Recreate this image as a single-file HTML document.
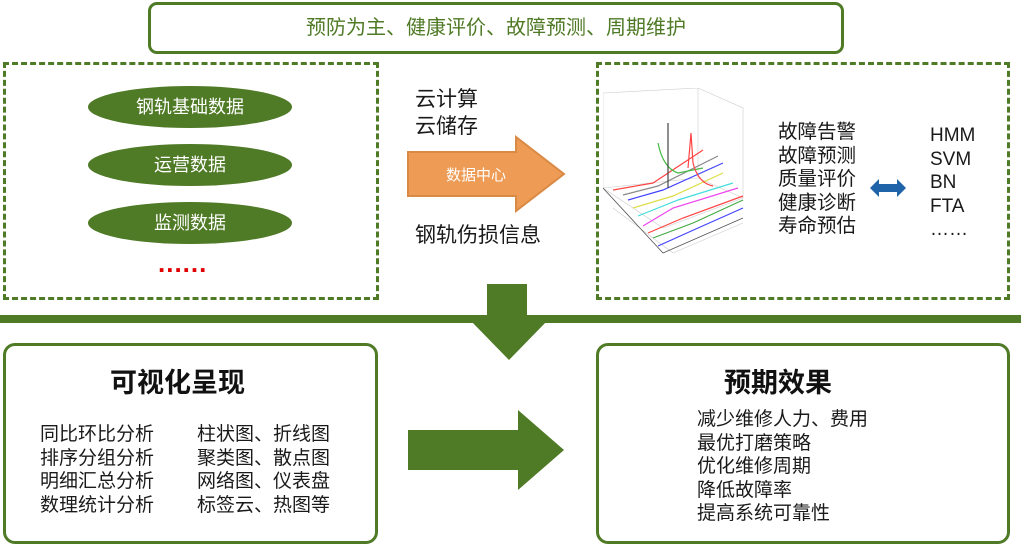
<!DOCTYPE html>
<html><head><meta charset="utf-8"><style>
body{margin:0;width:1024px;height:545px;background:#fff;position:relative;overflow:hidden;font-family:"Liberation Sans","Noto Sans CJK SC",sans-serif;color:#1a1a1a}
.a{position:absolute}
.t{position:absolute;white-space:nowrap;font-size:19px;line-height:23.5px}
.ell{position:absolute;left:88px;width:204px;height:42px;border-radius:50%;background:#4f7a26;color:#fff;font-size:18px;line-height:42px;text-align:center}
</style></head><body>
<div class="a" style="left:148px;top:2px;width:690px;height:46px;border:3px solid #4f7a26;border-radius:9px;color:#4f7a26;font-size:20px;line-height:46px;text-align:center">预防为主、健康评价、故障预测、周期维护</div>
<div class="a" style="left:3px;top:62px;width:370px;height:232px;border:3px dashed #4f7a26"></div>
<div class="a" style="left:596px;top:62px;width:408px;height:232px;border:3px dashed #4f7a26"></div>
<div class="ell" style="top:86px">钢轨基础数据</div>
<div class="ell" style="top:144px">运营数据</div>
<div class="ell" style="top:202px">监测数据</div>
<div class="t" style="left:158px;top:252px;color:#e00000;font-size:26px;font-weight:bold;letter-spacing:1px">......</div>
<div class="t" style="left:415px;top:86px;font-size:21px;line-height:27px">云计算<br>云储存</div>
<svg class="a" style="left:406px;top:135px" width="162" height="78"><polygon points="2,17 110,17 110,2 158,39 110,76 110,61 2,61" fill="#ee9b55" stroke="#d98a44" stroke-width="2"/><text x="70" y="45" font-size="15" fill="#fff" text-anchor="middle" font-family="Liberation Sans,Noto Sans CJK SC,sans-serif">数据中心</text></svg>
<div class="t" style="left:415px;top:224px;font-size:21px">钢轨伤损信息</div>
<svg class="a" style="left:603px;top:88px" width="145" height="168">
<g stroke="#ccc" stroke-width="0.6" fill="none"><path d="M0,5 L0,100 L60,140 L140,110 L140,20 L95,0 L0,5"/><path d="M95,0 L95,90 L0,100 M95,90 L140,110"/><path d="M10,120 L70,165 M70,165 L140,135"/></g>
<g fill="none" stroke-width="1.2"><path d="M10,102 L50,95 L100,62" stroke="#f44"/><path d="M20,107 L55,98 L115,68" stroke="#888"/><path d="M25,112 L60,102 L120,75" stroke="#44f"/><path d="M30,120 L70,108 L120,85" stroke="#dd4"/><path d="M35,128 L75,112 L130,95" stroke="#4dd"/><path d="M40,138 L70,120 L135,100" stroke="#e4e"/><path d="M45,145 L80,130 L140,108" stroke="#f44"/><path d="M50,150 L90,135 L140,112" stroke="#4a4"/><path d="M55,158 L95,140 L140,120" stroke="#44f"/><path d="M55,55 Q60,80 75,85 L100,80" stroke="#4b4"/><path d="M85,80 L88,45 L90,75 Q95,95 110,98" stroke="#f44"/><path d="M65,35 L65,100" stroke="#444"/></g>
<g stroke="#555" stroke-width="0.8" fill="none"><path d="M0,100 L60,165 L140,130"/></g></svg>
<div class="t" style="left:778px;top:121px;font-size:19.5px">故障告警<br>故障预测<br>质量评价<br>健康诊断<br>寿命预估</div>
<svg class="a" style="left:869px;top:178px" width="38" height="20"><polygon points="1,10 10,1 10,6 28,6 28,1 37,10 28,19 28,14 10,14 10,19" fill="#1f64a8"/></svg>
<div class="t" style="left:930px;top:124px">HMM<br>SVM<br>BN<br>FTA<br>……</div>
<div class="a" style="left:0;top:315px;width:1021px;height:8px;background:#4f7a26"></div>
<svg class="a" style="left:468px;top:284px" width="82" height="78"><polygon points="19,0 59,0 59,36 80,36 41,76 2,36 19,36" fill="#4f7a26"/></svg>
<div class="a" style="left:3px;top:343px;width:369px;height:195px;border:3px solid #4f7a26;border-radius:12px"></div>
<div class="t" style="left:110px;top:366px;font-size:27px;line-height:34px;font-weight:bold;color:#111">可视化呈现</div>
<div class="t" style="left:40px;top:423px">同比环比分析<br>排序分组分析<br>明细汇总分析<br>数理统计分析</div>
<div class="t" style="left:197px;top:423px">柱状图、折线图<br>聚类图、散点图<br>网络图、仪表盘<br>标签云、热图等</div>
<svg class="a" style="left:406px;top:408px" width="162" height="84"><polygon points="2,22 112,22 112,2 158,42 112,82 112,62 2,62" fill="#4f7a26"/></svg>
<div class="a" style="left:596px;top:343px;width:408px;height:195px;border:3px solid #4f7a26;border-radius:12px"></div>
<div class="t" style="left:724px;top:366px;font-size:27px;line-height:34px;font-weight:bold;color:#111">预期效果</div>
<div class="t" style="left:697px;top:408px">减少维修人力、费用<br>最优打磨策略<br>优化维修周期<br>降低故障率<br>提高系统可靠性</div>
</body></html>
